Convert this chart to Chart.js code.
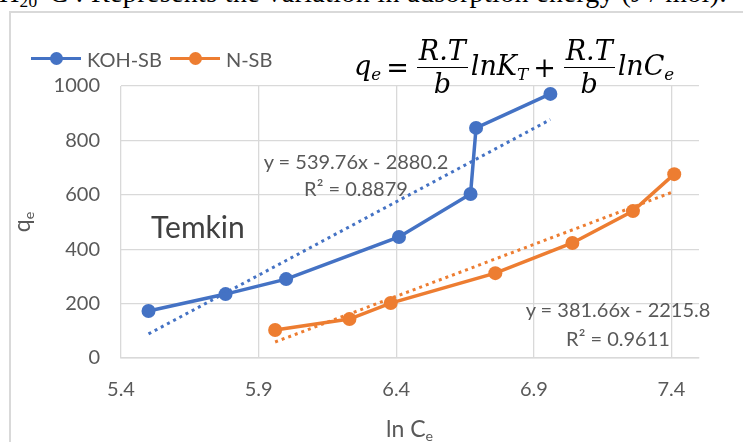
<!DOCTYPE html>
<html>
<head>
<meta charset="utf-8">
<script src="https://cdn.jsdelivr.net/npm/chart.js@4/dist/chart.umd.min.js"></script>
<style>
  body { margin: 0; background: #fff; }
  #wrap { position: relative; width: 743px; height: 442px; overflow: hidden; background: #fff; }
  #chart { position: absolute; left: 0; top: 0; }
  .ov { position: absolute; white-space: nowrap; color: #595959; font-family: Lato, sans-serif; }
  #caption { left: -1px; top: -23px; font-family: "Liberation Serif", serif; font-size: 28px; letter-spacing: 0.35px; color: #000; }
  #frame { position: absolute; left: 9px; top: 11px; width: 760px; height: 460px; border-top: 2px solid #d9d9d9; border-left: 2px solid #d9d9d9; }
  .leg { display: inline-flex; align-items: center; margin-right: 8px; font-size: 20px; }
  .leg .ln { position: relative; width: 50px; height: 3px; margin-right: 6px; }
  .leg .dot { position: absolute; left: 19px; top: -5px; width: 13px; height: 13px; border-radius: 50%; }
  #eq { left: 354px; top: 37px; font-family: "DejaVu Serif", serif; font-style: italic; font-size: 27px; color: #000; display: flex; align-items: center; }
  .frac { display: inline-flex; flex-direction: column; align-items: center; margin: 0 3px; line-height: 28px; }
  .frac .num { border-bottom: 1.5px solid #000; padding: 0 2px 2px; }
  .frac .den { padding-top: 2px; }
  .op { font-style: normal; margin: 0 5px; }
  sub { font-size: 0.62em; vertical-align: -0.3em; }
</style>
</head>
<body>
<div id="wrap">
  <div id="caption" class="ov">H<sub>20</sub>°C : Represents the variation in adsorption energy (J / mol).</div>
  <div id="frame"></div>
  <canvas id="chart" width="743" height="442"></canvas>
  <div id="legend" class="ov" style="left:31px; top:44px;"></div>
  <div id="eq" class="ov">
    <span>q<sub>e</sub></span><span class="op">=</span>
    <span class="frac"><span class="num">R.T</span><span class="den">b</span></span>
    <span>lnK<sub>T</sub></span><span class="op">+</span>
    <span class="frac"><span class="num">R.T</span><span class="den">b</span></span>
    <span>lnC<sub>e</sub></span>
  </div>
  <div class="ov" style="left:151px; top:208px; font-size:30px; color:#404040;">Temkin</div>
  <div class="ov" style="left:356px; top:148px; font-size:20px; transform:translateX(-50%); text-align:center; line-height:27px;">y = 539.76x - 2880.2<br>R² = 0.8879</div>
  <div class="ov" style="left:618px; top:295px; font-size:20px; transform:translateX(-50%); text-align:center; line-height:29px;">y = 381.66x - 2215.8<br>R² = 0.9611</div>
  <div class="ov" style="left:386px; top:414px; font-size:23px;">ln C<sub>e</sub></div>
  <div class="ov" style="left:22px; top:222px; font-size:23px; transform:translate(-50%,-50%) rotate(-90deg);">q<sub>e</sub></div>
</div>
<script>
// KOH-SB series
var koh_x = [5.50, 5.78, 6.00, 6.41, 6.67, 6.69, 6.96];
var koh_y = [173, 235, 290, 445, 603, 846, 971];
// N-SB series
var nsb_x = [5.96, 6.23, 6.38, 6.76, 7.04, 7.26, 7.41];
var nsb_y = [103, 143, 202, 312, 423, 540, 676];
// linear trendlines as printed on the chart (slope, intercept)
var koh_fit = [539.76, -2880.2];
var nsb_fit = [381.66, -2215.8];

var series_names = ['KOH-SB', 'N-SB'];
var series_colors = ['#4472C4', '#ED7D31'];
var x_ticks = [5.4, 5.9, 6.4, 6.9, 7.4];
var y_ticks = [0, 200, 400, 600, 800, 1000];

function points(xs, ys) {
  return xs.map(function(x, i) { return {x: x, y: ys[i]}; });
}
function trend(xs, fit) {
  var lo = Math.min.apply(null, xs), hi = Math.max.apply(null, xs);
  return [{x: lo, y: fit[0] * lo + fit[1]}, {x: hi, y: fit[0] * hi + fit[1]}];
}

// legend
var legend = document.getElementById('legend');
series_names.forEach(function(name, i) {
  var item = document.createElement('span');
  item.className = 'leg';
  item.innerHTML = '<span class="ln" style="background:' + series_colors[i] + '"><span class="dot" style="background:' +
    series_colors[i] + '"></span></span>' + name;
  legend.appendChild(item);
});

var config = {
  type: 'scatter',
  data: {
    datasets: [
      {
        data: trend(koh_x, koh_fit),
        showLine: true,
        borderColor: series_colors[0],
        borderWidth: 3,
        borderDash: [3, 4],
        pointRadius: 0,
      },
      {
        data: trend(nsb_x, nsb_fit),
        showLine: true,
        borderColor: series_colors[1],
        borderWidth: 3,
        borderDash: [3, 4],
        pointRadius: 0,
      },
      {
        label: series_names[0],
        data: points(koh_x, koh_y),
        showLine: true,
        borderColor: series_colors[0],
        backgroundColor: series_colors[0],
        borderWidth: 3.5,
        pointRadius: 7,
        pointBorderWidth: 0,
      },
      {
        label: series_names[1],
        data: points(nsb_x, nsb_y),
        showLine: true,
        borderColor: series_colors[1],
        backgroundColor: series_colors[1],
        borderWidth: 3.5,
        pointRadius: 7,
        pointBorderWidth: 0,
      },
    ],
  },
  options: {
    responsive: false,
    animation: false,
    layout: {
      padding: {left: 0, right: 44, top: 86, bottom: 0},
    },
    scales: {
      x: {
        type: 'linear',
        min: 5.4,
        max: 7.5,
        afterBuildTicks: function(scale) {
          scale.ticks = x_ticks.map(function(v) { return {value: v}; });
        },
        afterFit: function(scale) { scale.height = 84; },
        grid: {
          color: '#d9d9d9',
          lineWidth: 1.3,
          drawTicks: false,
        },
        border: { color: '#d9d9d9', width: 1.5 },
        ticks: {
          color: '#595959',
          padding: 20,
          font: { family: 'Lato', size: 20 },
          callback: function(v) { return v.toFixed(1); },
        },
      },
      y: {
        min: 0,
        max: 1000,
        afterBuildTicks: function(scale) {
          scale.ticks = y_ticks.map(function(v) { return {value: v}; });
        },
        afterFit: function(scale) { scale.width = 121; },
        grid: {
          color: '#d9d9d9',
          lineWidth: 1.3,
          drawTicks: false,
        },
        border: { display: false },
        ticks: {
          color: '#595959',
          padding: 21,
          font: { family: 'Lato', size: 20 },
          callback: function(v) { return String(v); },
        },
      },
    },
    plugins: {
      legend: { display: false },
      tooltip: { enabled: false },
    },
  },
};

var chart = new Chart(document.getElementById('chart'), config);
</script>
</body>
</html>
